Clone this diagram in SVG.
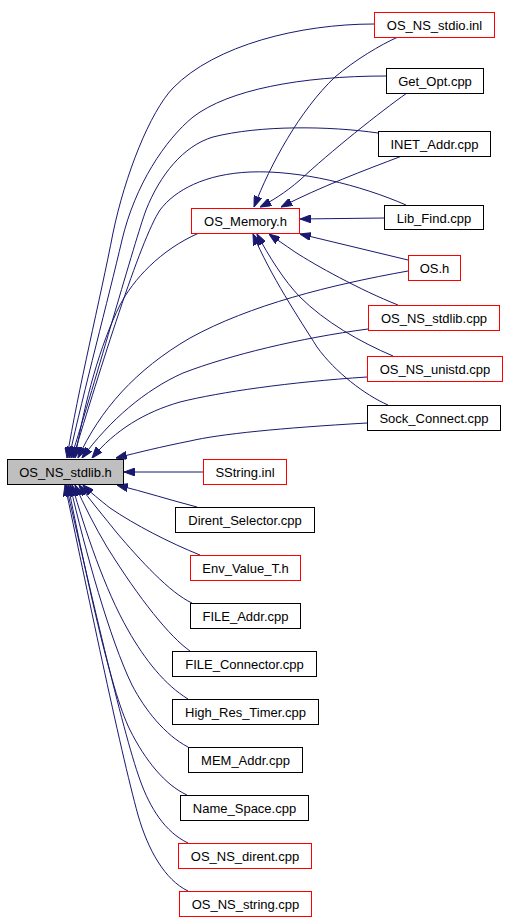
<svg xmlns="http://www.w3.org/2000/svg" width="507" height="920" viewBox="0 0 507 920">
<style>
.n rect{fill:#ffffff;stroke:#000000;stroke-width:1}
.n.r rect{stroke:#ff0000}
.n.g rect{fill:#bfbfbf}
.n text{font-family:"Liberation Sans",Arial,sans-serif;font-size:13px;fill:#000000;text-anchor:middle}
#edges path{fill:none;stroke:#191970;stroke-width:1;marker-end:url(#ah)}
</style>
<defs>
<marker id="ah" markerUnits="userSpaceOnUse" markerWidth="11" markerHeight="8" viewBox="0 0 11 8" refX="11" refY="4" orient="auto">
<path d="M0,0 L11,4 L0,8 z" fill="#191970" stroke="#191970" stroke-width="1"/>
</marker>
</defs>
<rect width="507" height="920" fill="#ffffff"/>
<g id="edges">
<!-- to OS_NS_stdlib.h from top -->
<path d="M374,24 C300,24 215,45 173,88 C150,112 125,175 113,233 C100,300 78,390 67,458"/>
<path d="M386,76 C300,76 228,90 193,117 C165,140 135,185 122,240 C108,300 84,390 69,458"/>
<path d="M378,133 C330,126 260,125 213,137 C183,146 160,175 146,210 C135,240 96,380 71,458"/>
<path d="M406,205 C360,185 300,170 250,172 C205,174 175,190 160,210 C140,240 100,370 73,458"/>
<path d="M199,233 C160,250 133,280 120,305 C100,345 85,400 75,458"/>
<path d="M408,271 C330,285 250,305 190,338 C135,370 100,410 78,458"/>
<path d="M368,329 C300,338 230,355 183,373 C145,390 110,420 82,458"/>
<path d="M367,377 C290,382 220,392 180,402 C145,412 115,430 92,458"/>
<path d="M367,423 C280,428 220,434 190,441 C160,447 140,452 116,458"/>
<path d="M203,472 L124,472"/>
<!-- to OS_NS_stdlib.h from bottom -->
<path d="M197,507 C170,500 145,492 117,485"/>
<path d="M200,555 C170,543 135,525 110,508 C100,500 90,492 83,485"/>
<path d="M192,603 C170,593 140,560 117,533 C105,518 90,500 79,485"/>
<path d="M190,651 C170,637 140,600 107,547 C95,527 84,505 75,485"/>
<path d="M188,699 C165,685 145,660 128,630 C105,590 85,530 72,485"/>
<path d="M188,747 C165,735 145,710 132,685 C110,640 85,550 70,485"/>
<path d="M187,795 C165,785 145,760 130,730 C110,690 85,570 68,485"/>
<path d="M188,843 C165,832 150,808 140,780 C122,730 88,580 66,485"/>
<path d="M188,891 C165,880 148,850 138,815 C120,750 85,580 65,485"/>
<!-- to OS_Memory.h -->
<path d="M398,37 C380,45 355,60 335,77 C300,110 270,165 254,207"/>
<path d="M407,93 C380,112 330,152 300,180 C285,193 270,202 260,207"/>
<path d="M402,156 C365,170 320,187 281,207"/>
<path d="M384,218 L300,219"/>
<path d="M408,260 L300,234"/>
<path d="M398,305 C360,290 315,265 295,252 C285,245 276,239 269,234"/>
<path d="M393,356 C360,342 325,322 300,297 C285,282 268,255 257,234"/>
<path d="M388,405 C365,395 335,372 317,347 C300,320 270,275 253,234"/>
</g>
<g id="n_stdlib_h" class="n g"><rect x="7.5" y="459.5" width="116" height="25"/><text x="65.5" y="477">OS_NS_stdlib.h</text></g>
<g id="n_memory" class="n r"><rect x="191.5" y="208.5" width="108" height="25"/><text x="245.5" y="226">OS_Memory.h</text></g>
<g id="n_sstring" class="n r"><rect x="203.5" y="459.5" width="83" height="25"/><text x="245" y="477">SString.inl</text></g>
<g id="n_dirent_sel" class="n"><rect x="175.5" y="507.5" width="139" height="25"/><text x="245" y="525">Dirent_Selector.cpp</text></g>
<g id="n_env" class="n r"><rect x="190.5" y="555.5" width="110" height="25"/><text x="245.5" y="573">Env_Value_T.h</text></g>
<g id="n_file_addr" class="n"><rect x="190.5" y="603.5" width="110" height="25"/><text x="245.5" y="621">FILE_Addr.cpp</text></g>
<g id="n_file_conn" class="n"><rect x="172.5" y="651.5" width="144" height="25"/><text x="244.5" y="669">FILE_Connector.cpp</text></g>
<g id="n_hrt" class="n"><rect x="172.5" y="699.5" width="146" height="25"/><text x="245.5" y="717">High_Res_Timer.cpp</text></g>
<g id="n_mem_addr" class="n"><rect x="188.5" y="747.5" width="114" height="25"/><text x="245.5" y="765">MEM_Addr.cpp</text></g>
<g id="n_name_space" class="n"><rect x="180.5" y="795.5" width="128" height="25"/><text x="244.5" y="813">Name_Space.cpp</text></g>
<g id="n_os_dirent" class="n r"><rect x="178.5" y="843.5" width="133" height="25"/><text x="245" y="861">OS_NS_dirent.cpp</text></g>
<g id="n_os_string" class="n r"><rect x="179.5" y="891.5" width="132" height="25"/><text x="245.5" y="909">OS_NS_string.cpp</text></g>
<g id="n_stdio" class="n r"><rect x="374.5" y="12.5" width="120" height="25"/><text x="434.5" y="30">OS_NS_stdio.inl</text></g>
<g id="n_getopt" class="n"><rect x="386.5" y="68.5" width="97" height="25"/><text x="435" y="86">Get_Opt.cpp</text></g>
<g id="n_inet" class="n"><rect x="378.5" y="131.5" width="112" height="25"/><text x="434.5" y="149">INET_Addr.cpp</text></g>
<g id="n_libfind" class="n"><rect x="384.5" y="205.5" width="99" height="24"/><text x="434" y="222.5">Lib_Find.cpp</text></g>
<g id="n_os_h" class="n r"><rect x="408.5" y="255.5" width="52" height="25"/><text x="434.5" y="273">OS.h</text></g>
<g id="n_stdlib_cpp" class="n r"><rect x="368.5" y="305.5" width="131" height="25"/><text x="434" y="323">OS_NS_stdlib.cpp</text></g>
<g id="n_unistd" class="n r"><rect x="367.5" y="356.5" width="135" height="25"/><text x="435" y="374">OS_NS_unistd.cpp</text></g>
<g id="n_sock" class="n"><rect x="367.5" y="405.5" width="133" height="25"/><text x="434" y="423">Sock_Connect.cpp</text></g>
</svg>
